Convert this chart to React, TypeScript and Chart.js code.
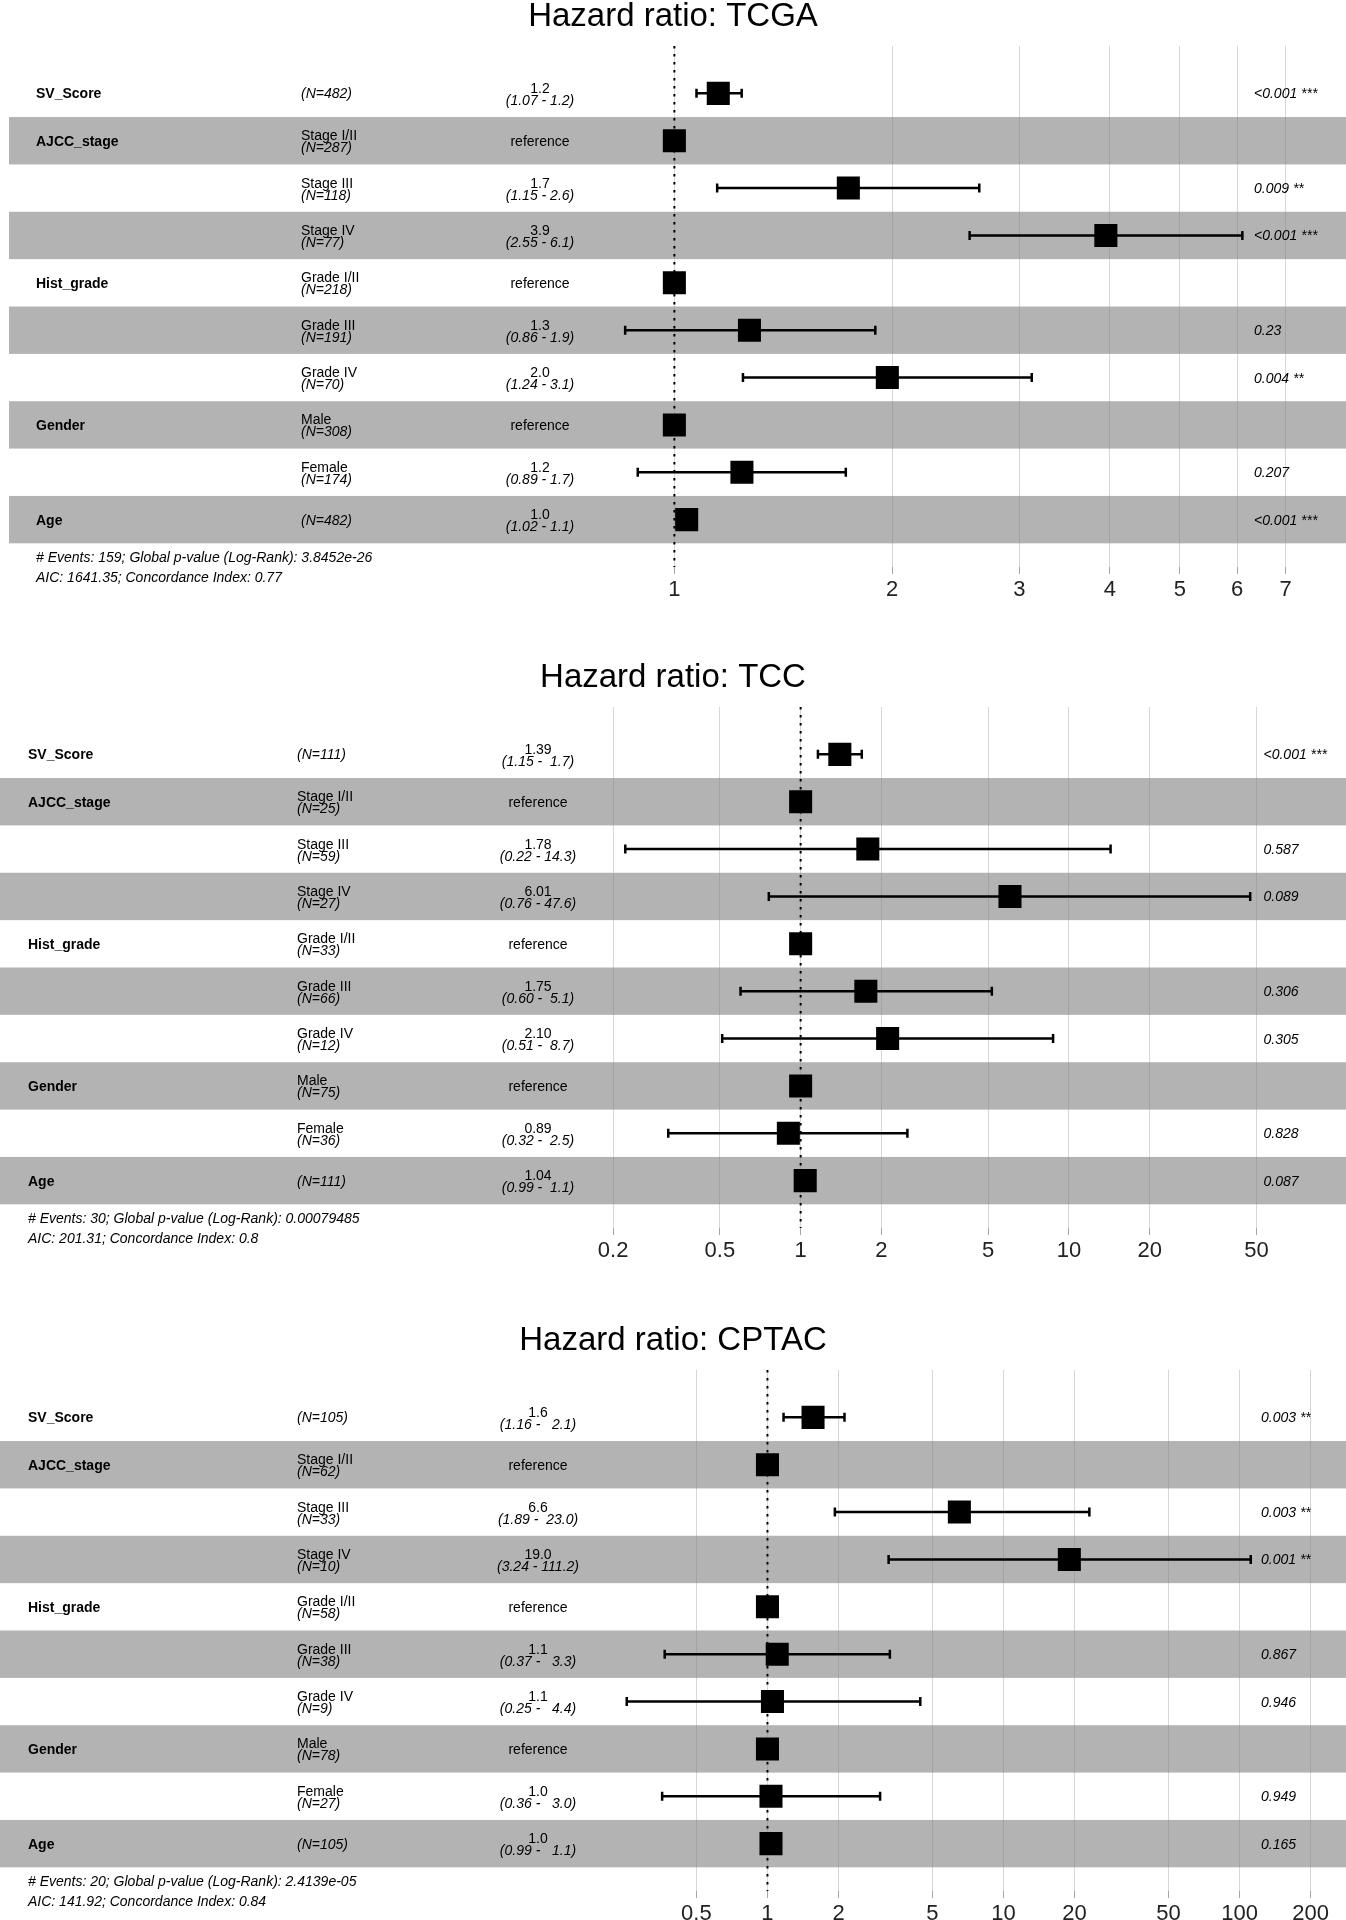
import React, { useEffect, useRef } from "react";
import { Chart, registerables } from "chart.js";

Chart.register(...registerables);

const FONT = '"Liberation Sans", Arial, Helvetica, sans-serif';

// ---------- shared row structure ----------
const VARIABLES = ["SV_Score", "AJCC_stage", "", "", "Hist_grade", "", "", "Gender", "", "Age"];
const LEVELS = ["", "Stage I/II", "Stage III", "Stage IV", "Grade I/II", "Grade III", "Grade IV", "Male", "Female", ""];

// ---------- TCGA ----------
const TCGA_N = [482, 287, 118, 77, 218, 191, 70, 308, 174, 482];
const TCGA_HR = [1.15, 1, 1.74, 3.95, 1, 1.27, 1.97, 1, 1.24, 1.04];
const TCGA_LO = [1.073, null, 1.146, 2.56, null, 0.855, 1.244, null, 0.89, 1.02];
const TCGA_HI = [1.239, null, 2.64, 6.1, null, 1.896, 3.12, null, 1.726, 1.05];
const TCGA_EST = ["1.2", "reference", "1.7", "3.9", "reference", "1.3", "2.0", "reference", "1.2", "1.0"];
const TCGA_CI = ["(1.07 - 1.2)", "", "(1.15 - 2.6)", "(2.55 - 6.1)", "", "(0.86 - 1.9)", "(1.24 - 3.1)", "", "(0.89 - 1.7)", "(1.02 - 1.1)"];
const TCGA_P = ["<0.001 ***", "", "0.009 **", "<0.001 ***", "", "0.23", "0.004 **", "", "0.207", "<0.001 ***"];
const TCGA_TICKS = [1, 2, 3, 4, 5, 6, 7];
const TCGA_RANGE = [0.12306, 8.0558];
const TCGA_FOOT = ["# Events: 159; Global p-value (Log-Rank): 3.8452e-26", "AIC: 1641.35; Concordance Index: 0.77"];

// ---------- TCC ----------
const TCC_N = [111, 25, 59, 27, 33, 66, 12, 75, 36, 111];
const TCC_HR = [1.4, 1, 1.78, 6.03, 1, 1.75, 2.11, 1, 0.9, 1.04];
const TCC_LO = [1.16, null, 0.222, 0.761, null, 0.597, 0.51, null, 0.321, 0.99];
const TCC_HI = [1.69, null, 14.3, 47.4, null, 5.16, 8.73, null, 2.5, 1.09];
const TCC_EST = ["1.39", "reference", "1.78", "6.01", "reference", "1.75", "2.10", "reference", "0.89", "1.04"];
const TCC_CI = ["(1.15 -  1.7)", "", "(0.22 - 14.3)", "(0.76 - 47.6)", "", "(0.60 -  5.1)", "(0.51 -  8.7)", "", "(0.32 -  2.5)", "(0.99 -  1.1)"];
const TCC_P = ["<0.001 ***", "", "0.587", "0.089", "", "0.306", "0.305", "", "0.828", "0.087"];
const TCC_TICKS = [0.2, 0.5, 1, 2, 5, 10, 20, 50];
const TCC_RANGE = [0.0011921, 93.78];
const TCC_FOOT = ["# Events: 30; Global p-value (Log-Rank): 0.00079485", "AIC: 201.31; Concordance Index: 0.8"];

// ---------- CPTAC ----------
const CPTAC_N = [105, 62, 33, 10, 58, 38, 9, 78, 27, 105];
const CPTAC_HR = [1.56, 1, 6.5, 19.0, 1, 1.1, 1.05, 1, 1.035, 1.035];
const CPTAC_LO = [1.17, null, 1.93, 3.26, null, 0.367, 0.2535, null, 0.358, 0.99];
const CPTAC_HI = [2.12, null, 23.1, 111.5, null, 3.3, 4.44, null, 3.0, 1.07];
const CPTAC_EST = ["1.6", "reference", "6.6", "19.0", "reference", "1.1", "1.1", "reference", "1.0", "1.0"];
const CPTAC_CI = ["(1.16 -   2.1)", "", "(1.89 -  23.0)", "(3.24 - 111.2)", "", "(0.37 -   3.3)", "(0.25 -   4.4)", "", "(0.36 -   3.0)", "(0.99 -   1.1)"];
const CPTAC_P = ["0.003 **", "", "0.003 **", "0.001 **", "", "0.867", "0.946", "", "0.949", "0.165"];
const CPTAC_TICKS = [0.5, 1, 2, 5, 10, 20, 50, 100, 200];
const CPTAC_RANGE = [0.0006578, 240.8];
const CPTAC_FOOT = ["# Events: 20; Global p-value (Log-Rank): 2.4139e-05", "AIC: 141.92; Concordance Index: 0.84"];

type PanelDef = {
  title: string;
  n: number[];
  hr: number[];
  lo: (number | null)[];
  hi: (number | null)[];
  est: string[];
  ci: string[];
  p: string[];
  ticks: number[];
  range: number[];
  foot: string[];
  layout: { bandLeft: number; varX: number; levelX: number; estX: number; pX: number };
};

const PANELS: PanelDef[] = [
  {
    title: "Hazard ratio: TCGA", n: TCGA_N, hr: TCGA_HR, lo: TCGA_LO, hi: TCGA_HI, est: TCGA_EST, ci: TCGA_CI,
    p: TCGA_P, ticks: TCGA_TICKS, range: TCGA_RANGE, foot: TCGA_FOOT,
    layout: { bandLeft: 9, varX: 36, levelX: 301, estX: 540, pX: 1254 },
  },
  {
    title: "Hazard ratio: TCC", n: TCC_N, hr: TCC_HR, lo: TCC_LO, hi: TCC_HI, est: TCC_EST, ci: TCC_CI,
    p: TCC_P, ticks: TCC_TICKS, range: TCC_RANGE, foot: TCC_FOOT,
    layout: { bandLeft: 0, varX: 28, levelX: 297, estX: 538, pX: 1263.5 },
  },
  {
    title: "Hazard ratio: CPTAC", n: CPTAC_N, hr: CPTAC_HR, lo: CPTAC_LO, hi: CPTAC_HI, est: CPTAC_EST, ci: CPTAC_CI,
    p: CPTAC_P, ticks: CPTAC_TICKS, range: CPTAC_RANGE, foot: CPTAC_FOOT,
    layout: { bandLeft: 0, varX: 28, levelX: 297, estX: 538, pX: 1261 },
  },
];

const W = 1346;
const H = 661;
const PLOT_TOP = 46;
const AXIS_H = 94;

function makeForestPlugin(panel: PanelDef) {
  return {
    id: "forest",
    beforeDatasetsDraw(chart: any) {
      const { ctx, chartArea } = chart;
      const x = chart.scales.x;
      const y = chart.scales.y;
      ctx.save();
      // alternating bands
      ctx.fillStyle = "rgba(128,128,128,0.6)";
      for (let i = 0; i < VARIABLES.length; i++) {
        if (i % 2 === 1) {
          const t = y.getPixelForValue(i + 0.5);
          const b = y.getPixelForValue(i + 1.5);
          ctx.fillRect(panel.layout.bandLeft, t, chart.width - panel.layout.bandLeft, b - t);
        }
      }
      // reference dotted line at HR = 1
      const x1 = x.getPixelForValue(1);
      ctx.strokeStyle = "#000";
      ctx.lineWidth = 2;
      ctx.setLineDash([2.5, 5.5]);
      ctx.beginPath();
      ctx.moveTo(x1, chartArea.top);
      ctx.lineTo(x1, chartArea.bottom);
      ctx.stroke();
      ctx.setLineDash([]);
      // confidence intervals
      ctx.lineWidth = 2.5;
      panel.lo.forEach((lo, i) => {
        const hi = panel.hi[i];
        if (lo == null || hi == null) return;
        const yy = y.getPixelForValue(i + 1);
        const xa = x.getPixelForValue(lo);
        const xb = x.getPixelForValue(hi);
        ctx.beginPath();
        ctx.moveTo(xa, yy);
        ctx.lineTo(xb, yy);
        ctx.moveTo(xa, yy - 4.5);
        ctx.lineTo(xa, yy + 4.5);
        ctx.moveTo(xb, yy - 4.5);
        ctx.lineTo(xb, yy + 4.5);
        ctx.stroke();
      });
      ctx.restore();
    },
    afterDraw(chart: any) {
      const { ctx, chartArea } = chart;
      const y = chart.scales.y;
      const L = panel.layout;
      ctx.save();
      ctx.fillStyle = "#000";
      ctx.textBaseline = "alphabetic";
      // title
      ctx.font = `33px ${FONT}`;
      ctx.textAlign = "center";
      ctx.fillText(panel.title, chart.width / 2, 26);
      for (let i = 0; i < VARIABLES.length; i++) {
        const cy = y.getPixelForValue(i + 1);
        // variable
        ctx.textAlign = "left";
        if (VARIABLES[i]) {
          ctx.font = `bold 14px ${FONT}`;
          ctx.fillText(VARIABLES[i], L.varX, cy + 5);
        }
        // level + N
        const nTxt = `(N=${panel.n[i]})`;
        if (LEVELS[i]) {
          ctx.font = `14px ${FONT}`;
          ctx.fillText(LEVELS[i], L.levelX, cy - 0.5);
          ctx.font = `italic 14px ${FONT}`;
          ctx.fillText(nTxt, L.levelX, cy + 11.5);
        } else {
          ctx.font = `italic 14px ${FONT}`;
          ctx.fillText(nTxt, L.levelX, cy + 5);
        }
        // estimate
        ctx.textAlign = "center";
        if (!panel.ci[i]) {
          ctx.font = `14px ${FONT}`;
          ctx.fillText(panel.est[i], L.estX, cy + 5);
        } else {
          ctx.font = `14px ${FONT}`;
          ctx.fillText(panel.est[i], L.estX, cy - 0.5);
          ctx.font = `italic 14px ${FONT}`;
          ctx.fillText(panel.ci[i], L.estX, cy + 11.5);
        }
        // p value
        if (panel.p[i]) {
          ctx.textAlign = "left";
          ctx.font = `italic 14px ${FONT}`;
          ctx.fillText(panel.p[i], L.pX, cy + 5);
        }
      }
      // footer
      ctx.textAlign = "left";
      ctx.font = `italic 14px ${FONT}`;
      ctx.fillText(panel.foot[0], L.varX, chartArea.bottom - 5);
      ctx.fillText(panel.foot[1], L.varX, chartArea.bottom + 15);
      ctx.restore();
    },
  };
}

function ForestPanel({ panel, top }: { panel: PanelDef; top: number }) {
  const ref = useRef<HTMLCanvasElement | null>(null);
  useEffect(() => {
    if (!ref.current) return;
    const data = panel.hr.map((v, i) => ({ x: v, y: i + 1 }));
    const chart = new Chart(ref.current, {
      type: "scatter",
      data: {
        datasets: [
          {
            data,
            pointStyle: "rect",
            pointRadius: 16.3,
            pointHoverRadius: 16.3,
            backgroundColor: "#000",
            borderColor: "#000",
            borderWidth: 0,
          } as any,
        ],
      },
      options: {
        responsive: false,
        animation: false,
        events: [],
        layout: { padding: { top: PLOT_TOP, left: 0, right: 0, bottom: 0 } },
        plugins: {
          legend: { display: false },
          tooltip: { enabled: false },
          title: { display: false },
        },
        scales: {
          x: {
            type: "logarithmic",
            min: panel.range[0],
            max: panel.range[1],
            bounds: "data",
            afterBuildTicks: (s: any) => {
              s.ticks = panel.ticks.map((v) => ({ value: v }));
            },
            afterFit: (s: any) => {
              s.height = AXIS_H;
            },
            grid: {
              color: "#d6d6d6",
              lineWidth: 1,
              drawTicks: true,
              tickLength: 7,
              tickColor: "#a6a6a6",
            },
            border: { display: false },
            ticks: {
              font: { family: FONT, size: 22 },
              color: "#222",
              padding: 3,
              maxRotation: 0,
              autoSkip: false,
              callback: (v: any) => String(v),
            },
          } as any,
          y: { type: "linear", min: 0, max: 11, reverse: true, display: false },
        },
      },
      plugins: [makeForestPlugin(panel)],
    });
    return () => chart.destroy();
  }, [panel]);
  return (
    <canvas
      ref={ref}
      width={W}
      height={H}
      style={{ position: "absolute", left: 0, top, width: W, height: H, display: "block" }}
    />
  );
}

export default function App() {
  return (
    <div
      style={{
        position: "absolute",
        left: 0,
        top: 0,
        width: W,
        height: 1920,
        overflow: "hidden",
        background: "#fff",
      }}
    >
      <ForestPanel panel={PANELS[0]} top={0} />
      <ForestPanel panel={PANELS[1]} top={661} />
      <ForestPanel panel={PANELS[2]} top={1324} />
    </div>
  );
}
